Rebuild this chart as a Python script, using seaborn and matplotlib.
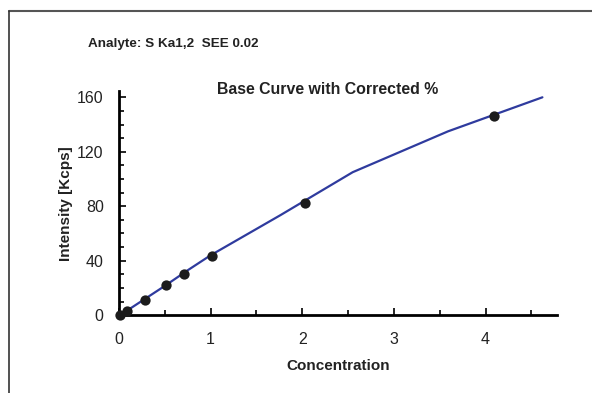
import matplotlib
matplotlib.use("Agg")
import matplotlib.pyplot as plt
from matplotlib.lines import Line2D
from matplotlib.ticker import MultipleLocator
import pandas as pd
import seaborn as sns

# measured standards
conc = [0.01, 0.09, 0.28, 0.51, 0.71, 1.02, 2.03, 4.09]
intensity = [0.0, 3.0, 11.5, 22.5, 30.0, 43.5, 82.7, 146.2]

# calibration (base) curve vertices
curve_conc = [0.0, 0.5, 0.75, 1.0, 1.76, 2.55, 3.59, 4.62]
curve_int = [-0.5, 21.5, 33.0, 44.0, 73.4, 105.0, 135.0, 160.0]

sns.set_theme(style="white")
plt.rcParams["font.family"] = ["Liberation Sans", "DejaVu Sans"]

fig = plt.figure(figsize=(5.92, 3.93), dpi=100)
ax = fig.add_axes([0.201, 0.198, 0.740, 0.570])

pts = pd.DataFrame({"conc": conc, "intensity": intensity})
curve = pd.DataFrame({"conc": curve_conc, "intensity": curve_int})

sns.lineplot(data=curve, x="conc", y="intensity", color="#2f3b9e",
             linewidth=1.6, sort=False, ax=ax, zorder=2)
sns.scatterplot(data=pts, x="conc", y="intensity", color="#1c1c1c",
                s=55, edgecolor="#1c1c1c", linewidth=0, ax=ax, zorder=3,
                clip_on=False)

ax.set_xlim(0, 4.78)
ax.set_ylim(0, 164.5)
ax.xaxis.set_major_locator(MultipleLocator(1))
ax.xaxis.set_minor_locator(MultipleLocator(0.5))
ax.yaxis.set_major_locator(MultipleLocator(40))
ax.yaxis.set_minor_locator(MultipleLocator(10))
ax.tick_params(which="both", direction="in", color="black", width=1.2,
               bottom=True, left=True, labelsize=11.5, labelcolor="#222222")
ax.tick_params(which="major", length=5)
ax.tick_params(which="minor", length=3.5)
ax.tick_params(axis="x", which="major", pad=12)
ax.tick_params(axis="y", which="major", pad=11)

for side in ("top", "right"):
    ax.spines[side].set_visible(False)
for side in ("left", "bottom"):
    ax.spines[side].set_color("black")
    ax.spines[side].set_linewidth(2)

ax.set_xlabel("Concentration", fontsize=11, fontweight="bold",
              labelpad=9, color="#222222")
ax.set_ylabel("Intensity [Kcps]", fontsize=11, fontweight="bold",
              labelpad=3, color="#222222")

fig.text(328 / 592, 1 - 89 / 393, "Base Curve with Corrected %",
         ha="center", va="center", fontsize=11.4, fontweight="bold",
         color="#222222")
fig.text(88 / 592, 1 - 44 / 393, "Analyte: S Ka1,2  SEE 0.02",
         ha="left", va="center", fontsize=9.7, fontweight="bold",
         color="#222222")

# page frame (top and left edges only)
fig.add_artist(Line2D([9 / 592, 1], [1 - 10.5 / 393, 1 - 10.5 / 393],
                      transform=fig.transFigure, color="#555555", linewidth=1.5))
fig.add_artist(Line2D([9 / 592, 9 / 592], [0, 1 - 10.5 / 393],
                      transform=fig.transFigure, color="#333333", linewidth=1.2))

fig.savefig("out.png", dpi=100)
plt.close(fig)
